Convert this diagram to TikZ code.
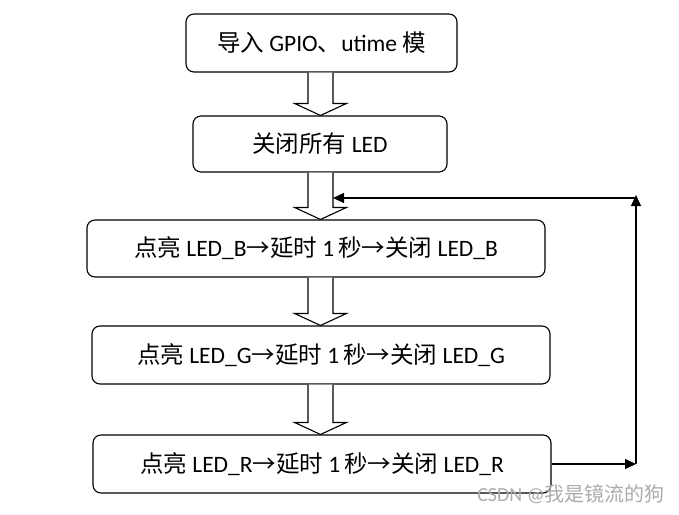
\documentclass[tikz,border=0pt]{standalone}
\usepackage{fontspec}
\setmainfont{Carlito}
\newfontfamily\cjk{Noto Sans CJK SC}
\usetikzlibrary{arrows.meta,calc}
\tikzset{
  box/.style={draw=black, line width=1.1pt, rounded corners=8pt, fill=white, inner sep=0pt, font=\fontsize{23.5}{28}\selectfont},
  blockarrow/.style={draw=black, line width=1.1pt, fill=white},
  loopline/.style={draw=black, line width=1.2pt, -{Triangle[length=11pt,width=10pt]}},
  wm/.style={text=gray!65, font=\fontsize{20}{24}\selectfont, inner sep=0pt}
}
\newcommand{\C}[1]{{\cjk #1}}
\begin{document}
\begin{tikzpicture}[x=1pt,y=-1pt]
\useasboundingbox (0,0) rectangle (679,514);
\node[box, minimum width=271pt, minimum height=58pt] (b1) at (321.5,43) {\C{导入} GPIO\C{、}utime \C{模}};
\node[box, minimum width=254pt, minimum height=56pt] (b2) at (320,144) {\C{关闭所有} LED};
\node[box, minimum width=458pt, minimum height=57pt] (b3) at (316,248.5) {\C{点亮} LED\_B\C{→延时} 1\,\C{秒→关闭} LED\_B};
\node[box, minimum width=458pt, minimum height=58pt] (b4) at (321,355) {\C{点亮} LED\_G\C{→延时} 1\,\C{秒→关闭} LED\_G};
\node[box, minimum width=458pt, minimum height=58pt] (b5) at (322,464) {\C{点亮} LED\_R\C{→延时} 1\,\C{秒→关闭} LED\_R};
\coordinate (ax) at (320.5,0);
\foreach \a/\b in {b1/b2,b2/b3,b3/b4,b4/b5}{
  \draw[blockarrow] ($(ax |- \a.south)+(-12.5,0)$) -- ($(ax |- \b.north)+(-12.5,-12)$)
    -- ($(ax |- \b.north)+(-26,-12)$) -- (ax |- \b.north) -- ($(ax |- \b.north)+(26,-12)$)
    -- ($(ax |- \b.north)+(12.5,-12)$) -- ($(ax |- \a.south)+(12.5,0)$);
}
\coordinate (lp) at (636,198);
\coordinate (sh) at (333,198);
\draw[loopline] (b5.east) -- (b5.east -| lp);
\draw[loopline] (b5.east -| lp) -- ($(lp)+(0,-3)$);
\draw[loopline] (lp) -- (sh);
\node[wm, anchor=east] (wmk) at (665,494) {CSDN @\C{我是镜流的狗}};
\end{tikzpicture}
\end{document}
